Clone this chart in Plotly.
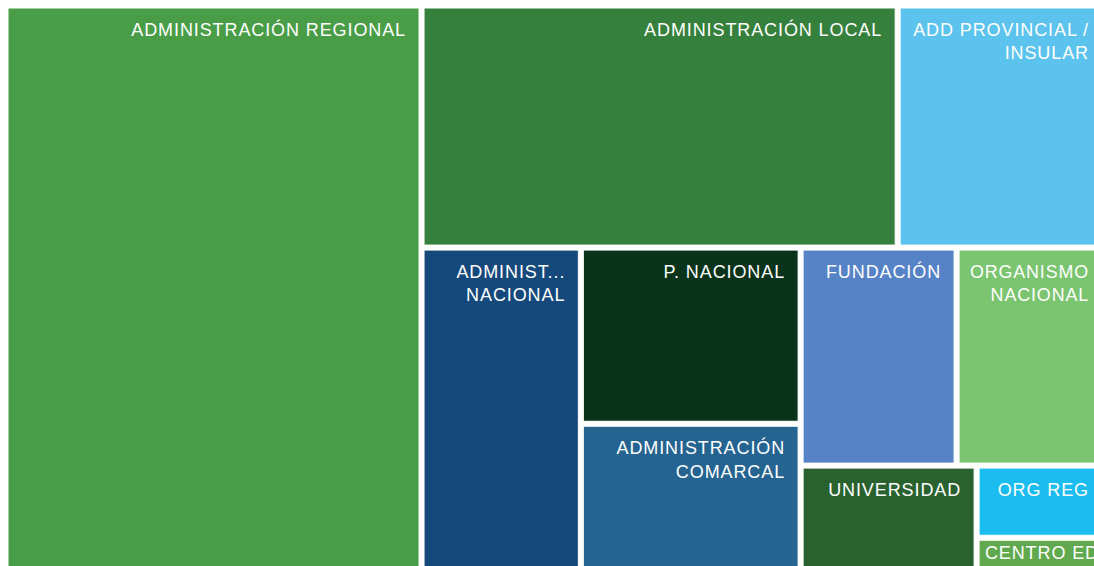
import plotly.graph_objects as go

# ---- data (values read from tile areas) ----
categories = [
    "ADMINISTRACIÓN REGIONAL", "ADMINISTRACIÓN LOCAL", "ADD PROVINCIAL / INSULAR",
    "ADMINISTRACIÓN NACIONAL", "P. NACIONAL", "ADMINISTRACIÓN COMARCAL",
    "FUNDACIÓN", "ORGANISMO NACIONAL", "UNIVERSIDAD", "ORG REG", "CENTRO ED",
]
values = [3786, 1837, 798, 835, 617, 535, 542, 514, 311, 147, 79]
display_labels = [
    ["ADMINISTRACIÓN REGIONAL"], ["ADMINISTRACIÓN LOCAL"], ["ADD PROVINCIAL /", "INSULAR"],
    ["ADMINIST...", "NACIONAL"], ["P. NACIONAL"], ["ADMINISTRACIÓN", "COMARCAL"],
    ["FUNDACIÓN"], ["ORGANISMO", "NACIONAL"], ["UNIVERSIDAD"], ["ORG REG"], ["CENTRO ED"],
]
colors = [
    "#499d47", "#35803c", "#5bc3ed", "#16497b", "#09331a", "#256491",
    "#5683c6", "#7bc470", "#29622f", "#1bbcef", "#60a94e",
]

# ---- layout grouping (invisible container nodes that reproduce the tile arrangement) ----
groups = [("R", ""), ("G1", "R"), ("G1a", "G1"), ("G1b", "G1"), ("G2", "G1b"),
          ("G3", "G1b"), ("G3a", "G3"), ("G3b", "G3"), ("G4", "G3b")]
leaf_group = ["R", "G1a", "G1a", "G1b", "G2", "G2", "G3a", "G3a", "G3b", "G4", "G4"]
order = ["R", 0, "G1", "G1a", 1, 2, "G1b", 3, "G2", 4, 5, "G3", "G3a", 6, 7, "G3b", 8, "G4", 9, 10]

group_parent = dict(groups)


def fmt(lines, lift=True, trail=2):
    out = []
    for i, line in enumerate(lines):
        s = '<span style="letter-spacing:0.9px">' + line + '</span>' + '&nbsp;' * trail
        if i == 0 and lift:
            s = '<span style="font-size:28px">&nbsp;</span>' + s
        out.append(s)
    return "<br>".join(out)


ids, parents, vals, texts, cols = [], [], [], [], []
for item in order:
    if isinstance(item, str):
        ids.append(item)
        parents.append(group_parent[item])
        vals.append(0)
        texts.append("")
        cols.append("white")
    else:
        ids.append(categories[item])
        parents.append(leaf_group[item])
        vals.append(values[item])
        small = categories[item] == "CENTRO ED"
        texts.append(fmt(display_labels[item], lift=not small, trail=0 if small else 2))
        cols.append(colors[item])

fig = go.Figure(go.Treemap(
    ids=ids,
    labels=ids,
    parents=parents,
    values=vals,
    text=texts,
    textinfo="text",
    branchvalues="remainder",
    sort=False,
    textposition="top right",
    textfont=dict(family="Liberation Sans, Arial, sans-serif", size=18, color="white"),
    marker=dict(colors=cols, line=dict(color="white", width=1),
                pad=dict(t=0, l=0, r=0, b=0)),
    tiling=dict(packing="slice-dice", pad=5),
    pathbar=dict(visible=False),
    root=dict(color="white"),
    hoverinfo="label+value",
))

fig.update_layout(
    width=1102, height=574,
    margin=dict(l=8, r=0, t=8, b=0),
    paper_bgcolor="white",
    plot_bgcolor="white",
)

fig.write_html(
    "out.html",
    config={"displayModeBar": False},
    post_script=(
        "document.body.style.margin='0';"
        "document.documentElement.style.overflow='hidden';"
        "document.body.style.overflow='hidden';"
    ),
)
